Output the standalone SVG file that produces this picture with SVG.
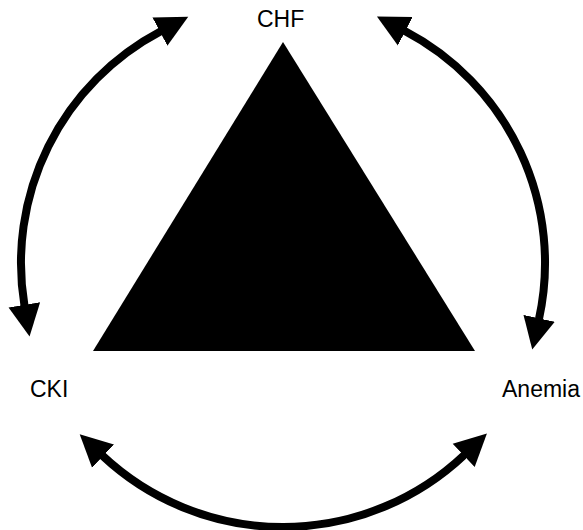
<svg xmlns="http://www.w3.org/2000/svg" width="583" height="530" viewBox="0 0 583 530">
  <style>
    .label { font-family: "Liberation Sans", Arial, Helvetica, sans-serif; font-size: 23px; fill: #000; }
    .arc { fill: none; stroke: #000; stroke-width: 8; marker-start: url(#head); marker-end: url(#head); }
  </style>
  <defs>
    <marker id="head" markerUnits="userSpaceOnUse" viewBox="0 -17 34 34" markerWidth="34" markerHeight="34" refX="1" refY="0" orient="auto-start-reverse">
      <polygon points="0,-16 32,0 0,16" fill="#000"/>
    </marker>
  </defs>
  <rect width="583" height="530" fill="#fff"/>
  <g id="triangle">
    <polygon points="283,42 93,351 475,351" fill="#000"/>
  </g>
  <g id="node-chf"><text class="label" x="257" y="27">CHF</text></g>
  <g id="node-cki"><text class="label" x="30" y="397">CKI</text></g>
  <g id="node-anemia"><text class="label" x="502" y="397">Anemia</text></g>
  <g id="connectors">
    <path class="arc" d="M 24.5 305.8 A 262 262 0 0 1 160.8 31.2"/>
    <path class="arc" d="M 404.4 30.8 A 262 262 0 0 1 538.9 319.3"/>
    <path class="arc" d="M 464.4 454.8 A 264 264 0 0 1 102.3 455.5"/>
  </g>
</svg>
